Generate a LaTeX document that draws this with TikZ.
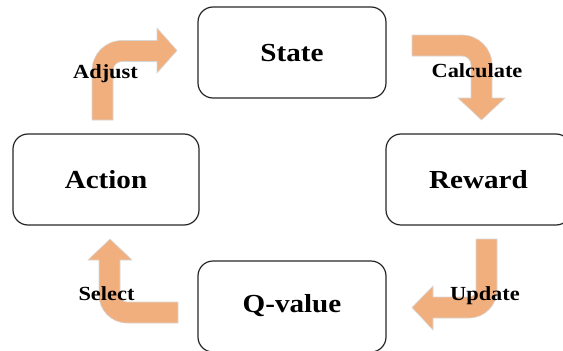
\documentclass[tikz,border=0pt]{standalone}
\usepackage{fontspec}
\setmainfont{Liberation Serif}[FakeStretch=1.12]
\definecolor{arrowfill}{RGB}{242,175,126}
\definecolor{arrowedge}{RGB}{215,215,215}
\tikzset{
  stagebox/.style={draw=black!85, line width=1.2pt, rounded corners=15pt},
  stagetext/.style={font=\bfseries\fontsize{26}{30}\selectfont, inner sep=0pt},
  steptext/.style={font=\bfseries\fontsize{20}{24}\selectfont, inner sep=0pt, anchor=base},
  bentarrow/.style={fill=arrowfill, draw=arrowedge, line width=0.6pt, line join=miter},
}
\begin{document}
\begin{tikzpicture}[x=1pt, y=-1pt]
\useasboundingbox (0,0) rectangle (563,351);

% the four stages
\draw[stagebox] (198,7) rectangle (386,98);
\node[stagetext] (state) at (292,53) {State};
\draw[stagebox] (13,134) rectangle (199,225);
\node[stagetext] (action) at (106,180) {Action};
\draw[stagebox] (386,134) rectangle (571,225);
\node[stagetext] (reward) at (478.5,180) {Reward};
\draw[stagebox] (198,261) rectangle (386,352);
\node[stagetext] (qvalue) at (292,306) {Q-value};

% Action -> State
\filldraw[bentarrow] (92,120) -- (92,70.5) arc[start angle=180, end angle=270, radius=30]
  -- (157,40.5) -- (157,28) -- (177,50.5) -- (157,73) -- (157,61.5) -- (122,61.5)
  arc[start angle=270, end angle=180, radius=9] -- (113,120) -- cycle;
% State -> Reward
\filldraw[bentarrow] (412,35) -- (462,35) arc[start angle=270, end angle=360, radius=30]
  -- (492,98) -- (505,98) -- (481.5,120) -- (458,98) -- (471,98) -- (471,65)
  arc[start angle=0, end angle=-90, radius=9] -- (412,56) -- cycle;
% Reward -> Q-value
\filldraw[bentarrow] (476,239) -- (497,239) -- (497,290) arc[start angle=0, end angle=90, radius=28]
  -- (433,318) -- (433,330) -- (412,307.5) -- (433,286) -- (433,297) -- (469,297)
  arc[start angle=90, end angle=0, radius=7] -- cycle;
% Q-value -> Action
\filldraw[bentarrow] (178,302) -- (178,323) -- (127,323) arc[start angle=90, end angle=180, radius=28]
  -- (99,260) -- (88,260) -- (110,239) -- (132,260) -- (120,260) -- (120,295)
  arc[start angle=180, end angle=90, radius=7] -- cycle;

% transition labels
\node[steptext] (adjust) at (105.5,78) {Adjust};
\node[steptext] (calc) at (477,77) {Calculate};
\node[steptext] (update) at (485,300) {Update};
\node[steptext] (select) at (106.5,300) {Select};
\end{tikzpicture}
\end{document}
